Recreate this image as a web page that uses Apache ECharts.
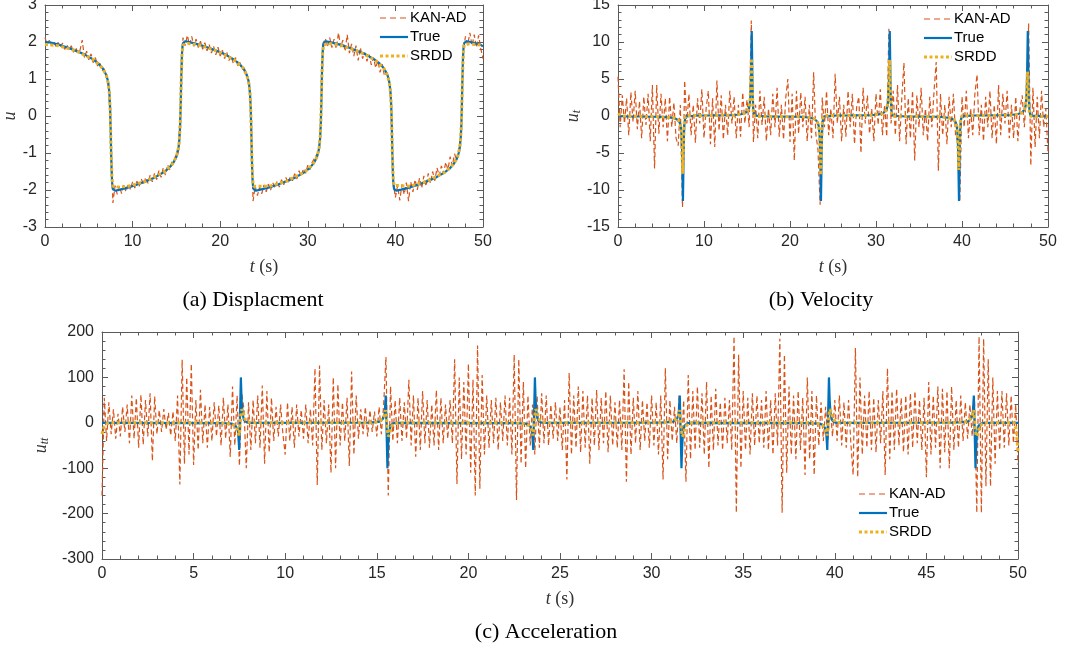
<!DOCTYPE html>
<html>
<head>
<meta charset="utf-8">
<script src="https://cdn.jsdelivr.net/npm/echarts@6/dist/echarts.min.js"></script>
<style>
  html, body { margin: 0; padding: 0; background: #ffffff; }
  #chart { width: 1078px; height: 651px; }
</style>
</head>
<body>
<div id="chart"></div>
<script>
// ---- series names and captions ----
const seriesNames = ['KAN-AD', 'True', 'SRDD'];
const captions = ['(a) Displacment', '(b) Velocity', '(c) Acceleration'];

// ---- KAN-AD predictions, sampled on a uniform time step ----
const kanStepU = 0.25;
const kanU = [
  2.12, 1.93, 2.05, 1.90,  2.02, 1.88, 1.99, 1.85,  1.97, 1.80, 1.92, 1.78,  1.90, 1.72, 1.86, 1.70,
  1.78, 2.05, 1.58, 1.75,  1.52, 1.68, 1.44, 1.58,  1.35, 1.46, 1.22, 1.28,  1.05, 0.80, -0.45, -2.35,
  -1.88, -2.12, -1.90, -2.10,  -1.85, -2.05, -1.82, -1.98,  -1.78, -1.95, -1.76, -1.90,  -1.70, -1.86, -1.66, -1.82,
  -1.60, -1.78, -1.55, -1.72,  -1.48, -1.66, -1.40, -1.60,  -1.32, -1.45, -1.22, -1.18,  -1.02, -0.80, 0.45, 2.12,
  1.90, 2.18, 1.92, 2.15,  1.88, 2.08, 1.85, 2.02,  1.80, 1.98, 1.76, 1.93,  1.70, 1.88, 1.65, 1.86,
  1.62, 1.78, 1.55, 1.72,  1.50, 1.62, 1.42, 1.58,  1.36, 1.45, 1.25, 1.30,  1.08, 1.00, 0.10, -2.30,
  -1.90, -2.15, -1.92, -2.10,  -1.86, -2.05, -1.84, -2.00,  -1.80, -1.95, -1.76, -1.92,  -1.72, -1.86, -1.66, -1.82,
  -1.62, -1.75, -1.56, -1.70,  -1.48, -1.62, -1.42, -1.55,  -1.33, -1.45, -1.25, -1.15,  -1.05, -0.95, -0.10, 1.95,
  2.10, 1.88, 2.12, 1.85,  2.08, 1.82, 2.25, 1.86,  2.05, 1.75, 2.20, 1.70,  1.95, 1.62, 1.90, 1.50,
  1.85, 1.55, 1.72, 1.48,  1.66, 1.38, 1.58, 1.30,  1.50, 1.18, 1.40, 1.08,  1.18, 0.95, 0.40, -1.80,
  -2.20, -1.88, -2.28, -1.85,  -2.12, -1.80, -2.30, -1.78,  -2.05, -1.72, -2.00, -1.68,  -1.95, -1.62, -1.90, -1.55,
  -1.82, -1.50, -1.75, -1.40,  -1.62, -1.35, -1.55, -1.25,  -1.45, -1.10, -1.35, -1.02,  -1.20, -0.90, -0.40, 1.80,
  2.15, 1.92, 2.25, 1.90,  2.20, 1.85, 2.18, 1.82,
  1.55
];

const kanStepV = 0.25;
const kanV = [
  5.3, -1.5, 2.8, -1.0,  2.4, -2.6, 3.2, -0.8,  3.4, -1.8, 2.0, -3.0,  2.6, -1.2, 3.0, -3.4,
  4.2, -7.1, 4.2, -2.4,  3.0, -1.5, 2.4, -3.4,  2.6, -1.5, 1.8, -3.0,  -4.0, 1.5, -12.3, 4.8,
  -1.0, 3.0, -2.6, 1.5,  -3.6, 2.4, -1.0, 3.6,  -3.0, 1.0, 3.4, -3.8,  2.4, -4.2, 4.8, -2.0,
  2.8, -3.2, 1.5, -2.6,  3.4, -1.0, 2.6, -3.0,  1.5, -2.8, 3.2, -1.0,  2.2, -1.5, 12.9, -3.5,
  1.5, -3.0, 3.4, -1.2,  2.6, -3.4, 1.0, -2.6,  3.0, -1.5, 3.8, -2.8,  1.5, -3.2, 2.4, 5.0,
  -3.5, 3.0, -6.0, 3.4,  -2.4, 3.2, -1.5, 2.6,  -3.4, 1.5, -3.0, 5.9,  -2.4, -4.5, -12.0, 2.5,
  -1.5, 3.4, -2.6, 1.0,  -3.0, 5.7, -1.0, 2.6,  -3.4, 1.5, -2.8, 3.4,  -1.5, 3.0, -3.8, 1.2,
  2.6, -5.0, 3.8, -1.0,  2.8, -2.4, 1.0, -3.4,  3.0, -1.2, 3.6, -2.6,  1.5, -2.8, 11.8, -1.0,
  3.4, -2.6, 4.2, -3.4,  2.4, 7.2, -3.8, 2.4,  -3.0, 3.4, -6.0, 2.8,  -1.5, 3.8, -2.6, 1.0,
  -3.4, 2.6, -1.5, 3.4,  7.3, -7.4, 3.0, -2.6,  1.5, -3.8, 2.6, -1.5,  3.0, -2.6, -3.5, -11.5,
  2.6, -1.5, 3.4, -3.0,  1.0, -2.6, 3.0, 5.6,  -2.6, 1.5, -3.4, 2.6,  -1.5, 3.4, -3.0, 1.5,
  -3.8, 4.2, -2.6, 3.0,  -1.0, 3.4, -3.0, 1.5,  -3.0, 2.6, -3.4, 1.0,  2.8, -1.5, 3.0, 12.5,
  -6.7, 3.8, -4.2, 2.6,  -3.0, 3.4, -1.5, 1.0,
  -4.9
];

const kanStepA = 0.125;
const kanA = [
  -160, 55, -40, 45, -25, 30, -35, 20,
  -30, 35, -20, 40, -45, 60, -35, 55,
  -55, 62, -48, 50, -30, 65, -84, 58,
  -25, 28, -20, 30, -15, 22, -28, 25,
  -40, 60, -136, 139, -90, 100, -70, 130,
  -93, 50, -60, 73, -45, 40, -55, 35,
  -40, 45, -30, 38, -50, 55, -35, 40,
  -75, 80, -50, 60, -95, 65, 30, -100,
  45, -60, 50, -45, 60, -55, 82, -90,
  70, -65, 55, -40, 35, -30, 40, -25,
  -70, 45, -40, 35, -55, 40, -30, 28,
  -35, 40, -45, 30, -50, 120, -137, 126,
  -60, 50, -45, 40, -110, 100, -100, 85,
  -50, 45, -40, 55, -95, 113, -70, 60,
  -35, 30, -25, 35, -30, 28, -20, 25,
  -30, 35, -25, 40, 145, -160, 80, -40,
  50, -45, 55, -40, 45, -35, 95, -50,
  60, -75, 55, -60, 70, -45, 50, -55,
  40, -50, 72, -60, 55, -45, 40, -35,
  50, -45, 140, -135, 100, -80, 90, -70,
  130, -110, 95, -160, 170, -145, 105, -70,
  60, -55, 50, -45, 55, -60, 45, -40,
  60, -50, 55, -70, 150, -170, 140, -90,
  90, -100, 60, -50, 40, -70, 60, -55,
  65, -45, 60, -50, 40, -35, 45, -40,
  35, -60, 50, -125, 110, -70, 60, -55,
  80, -65, 70, -55, 60, -90, 55, -50,
  72, -60, 55, -45, 70, -65, 60, -50,
  45, -55, 50, -60, 118, -130, 90, -70,
  55, -45, 70, -60, 50, -40, 45, -55,
  60, -50, 45, -70, 60, -125, 120, -80,
  50, -40, 35, -45, 60, -70, 50, -130,
  105, -80, 70, -60, 80, -55, 65, -70,
  90, -100, 60, -60, 75, -50, 45, -60,
  55, -45, 50, -60, 190, -198, 150, -100,
  70, -60, 55, -70, 65, -50, 60, -45,
  50, -55, 70, -60, 50, -70, 65, -50,
  185, -198, 150, -110, 80, -70, 60, -80,
  70, -60, 55, -115, 100, -80, 70, -115,
  60, -50, 45, -40, 35, -40, 35, -30,
  50, -40, 60, -50, 45, -55, 50, -45,
  -115, 165, -120, 100, -70, 60, -55, 70,
  -60, 55, -65, 50, -45, 70, -115, 120,
  -80, 70, -60, 75, -50, 55, -65, 60,
  -70, 65, -55, 70, -45, 50, -60, 55,
  -120, 90, -70, 60, -55, 80, -100, 75,
  -65, 70, -100, 80, -60, 50, -55, 60,
  -40, 45, -35, 40, -30, 55, -198, 190,
  -198, 185, -140, 140, -140, 100, -90, 70,
  -60, 70, -55, 65, -50, 60, -45, 40,
  -93
];

// ---- reference solution, [t, value] ----
const trueU = [
  [0, 2.0], [0.55, 1.99], [1.55, 1.93], [2.55, 1.85], [3.55, 1.76], [4.55, 1.66], [5.55, 1.52], [6.05, 1.43],
  [6.55, 1.30], [6.85, 1.18], [7.0, 1.10], [7.15, 0.98], [7.25, 0.85], [7.35, 0.62], [7.43, 0.25], [7.49, -0.3], [7.55, -1.0],
  [7.6, -1.45], [7.65, -1.75], [7.7, -1.9], [7.75, -1.97], [7.85, -2.01], [8.0, -2.02], [8.55, -1.99], [9.55, -1.93],
  [10.55, -1.85], [11.55, -1.76], [12.55, -1.66], [13.55, -1.52], [14.05, -1.43], [14.55, -1.30], [14.85, -1.18], [15.0, -1.10],
  [15.15, -0.98], [15.25, -0.85], [15.35, -0.62], [15.43, -0.25], [15.49, 0.3], [15.55, 1.0],
  [15.6, 1.45], [15.65, 1.75], [15.7, 1.9], [15.75, 1.97], [15.85, 2.01], [16.0, 2.02], [16.6, 1.99], [17.6, 1.93],
  [18.6, 1.85], [19.6, 1.76], [20.6, 1.66], [21.6, 1.52], [22.1, 1.43], [22.6, 1.30], [22.9, 1.18], [23.05, 1.10],
  [23.2, 0.98], [23.3, 0.85], [23.4, 0.62], [23.48, 0.25], [23.54, -0.3], [23.6, -1.0],
  [23.65, -1.45], [23.7, -1.75], [23.75, -1.9], [23.8, -1.97], [23.9, -2.01], [24.05, -2.02], [24.6, -1.99], [25.6, -1.93],
  [26.6, -1.85], [27.6, -1.76], [28.6, -1.66], [29.6, -1.52], [30.1, -1.43], [30.6, -1.30], [30.9, -1.18], [31.05, -1.10],
  [31.2, -0.98], [31.3, -0.85], [31.4, -0.62], [31.48, -0.25], [31.54, 0.3], [31.6, 1.0],
  [31.65, 1.45], [31.7, 1.75], [31.75, 1.9], [31.8, 1.97], [31.9, 2.01], [32.05, 2.02], [32.65, 1.99], [33.65, 1.93],
  [34.65, 1.85], [35.65, 1.76], [36.65, 1.66], [37.65, 1.52], [38.15, 1.43], [38.65, 1.30], [38.95, 1.18], [39.1, 1.10],
  [39.25, 0.98], [39.35, 0.85], [39.45, 0.62], [39.53, 0.25], [39.59, -0.3], [39.65, -1.0],
  [39.7, -1.45], [39.75, -1.75], [39.8, -1.9], [39.85, -1.97], [39.95, -2.01], [40.1, -2.02], [40.65, -1.99], [41.65, -1.93],
  [42.65, -1.85], [43.65, -1.76], [44.65, -1.66], [45.65, -1.52], [46.15, -1.43], [46.65, -1.30], [46.95, -1.18], [47.1, -1.10],
  [47.25, -0.98], [47.35, -0.85], [47.45, -0.62], [47.53, -0.25], [47.59, 0.3], [47.65, 1.0],
  [47.7, 1.45], [47.75, 1.75], [47.8, 1.9], [47.85, 1.97], [47.95, 2.01], [48.1, 2.02], [48.7, 1.99], [49.7, 1.93], [50, 1.88]
];

const trueV = [
  [0, 0], [1, -0.05], [2.5, -0.07], [4, -0.1], [5, -0.13],
  [5.8, -0.17], [6.3, -0.24], [6.8, -0.4], [7.0, -0.55], [7.15, -0.8], [7.3, -1.4], [7.4, -2.8], [7.45, -4.5], [7.5, -8.0],
  [7.55, -11.5], [7.59, -8.5], [7.63, -5.0], [7.67, -2.5], [7.73, -1.0], [7.8, -0.35], [7.9, -0.05], [8.05, 0.05],
  [9.5, 0.07], [11, 0.08], [12.5, 0.1], [13.5, 0.13],
  [13.8, 0.17], [14.3, 0.24], [14.8, 0.4], [15.0, 0.55], [15.15, 0.8], [15.3, 1.4], [15.4, 2.8], [15.45, 4.5], [15.5, 8.0],
  [15.55, 11.5], [15.59, 8.5], [15.63, 5.0], [15.67, 2.5], [15.73, 1.0], [15.8, 0.35], [15.9, 0.05], [16.05, -0.05],
  [17.5, -0.07], [19, -0.08], [20.5, -0.1], [21.5, -0.13],
  [21.85, -0.17], [22.35, -0.24], [22.85, -0.4], [23.05, -0.55], [23.2, -0.8], [23.35, -1.4], [23.45, -2.8], [23.5, -4.5], [23.55, -8.0],
  [23.6, -11.5], [23.64, -8.5], [23.68, -5.0], [23.72, -2.5], [23.78, -1.0], [23.85, -0.35], [23.95, -0.05], [24.1, 0.05],
  [25.5, 0.07], [27, 0.08], [28.5, 0.1], [29.5, 0.13],
  [29.85, 0.17], [30.35, 0.24], [30.85, 0.4], [31.05, 0.55], [31.2, 0.8], [31.35, 1.4], [31.45, 2.8], [31.5, 4.5], [31.55, 8.0],
  [31.6, 11.5], [31.64, 8.5], [31.68, 5.0], [31.72, 2.5], [31.78, 1.0], [31.85, 0.35], [31.95, 0.05], [32.1, -0.05],
  [33.5, -0.07], [35, -0.08], [36.5, -0.1], [37.5, -0.13],
  [37.9, -0.17], [38.4, -0.24], [38.9, -0.4], [39.1, -0.55], [39.25, -0.8], [39.4, -1.4], [39.5, -2.8], [39.55, -4.5], [39.6, -8.0],
  [39.65, -11.5], [39.69, -8.5], [39.73, -5.0], [39.77, -2.5], [39.83, -1.0], [39.9, -0.35], [40.0, -0.05], [40.15, 0.05],
  [41.5, 0.07], [43, 0.08], [44.5, 0.1], [45.5, 0.13],
  [45.9, 0.17], [46.4, 0.24], [46.9, 0.4], [47.1, 0.55], [47.25, 0.8], [47.4, 1.4], [47.5, 2.8], [47.55, 4.5], [47.6, 8.0],
  [47.65, 11.5], [47.69, 8.5], [47.73, 5.0], [47.77, 2.5], [47.83, 1.0], [47.9, 0.35], [48.0, 0.05], [48.15, -0.05],
  [50, -0.06]
];

const trueA = [
  [0, 0], [6.5, -0.5],
  [7.1, -2], [7.25, -5], [7.35, -10], [7.43, -20], [7.49, -60], [7.58, 100], [7.62, 50], [7.67, 20], [7.75, 6], [7.9, 1], [8.05, 0],
  [14.5, 0.5],
  [15.1, 2], [15.25, 5], [15.35, 10], [15.43, 20], [15.49, 60], [15.58, -100], [15.62, -50], [15.67, -20], [15.75, -6], [15.9, -1], [16.05, 0],
  [22.5, -0.5],
  [23.15, -2], [23.3, -5], [23.4, -10], [23.48, -20], [23.54, -60], [23.63, 100], [23.67, 50], [23.72, 20], [23.8, 6], [23.95, 1], [24.1, 0],
  [30.5, 0.5],
  [31.15, 2], [31.3, 5], [31.4, 10], [31.48, 20], [31.54, 60], [31.63, -100], [31.67, -50], [31.72, -20], [31.8, -6], [31.95, -1], [32.1, 0],
  [38.5, -0.5],
  [39.2, -2], [39.35, -5], [39.45, -10], [39.53, -20], [39.59, -60], [39.68, 100], [39.72, 50], [39.77, 20], [39.85, 6], [40.0, 1], [40.15, 0],
  [46.5, 0.5],
  [47.2, 2], [47.35, 5], [47.45, 10], [47.53, 20], [47.59, 60], [47.68, -100], [47.72, -50], [47.77, -20], [47.85, -6], [48.0, -1], [48.15, 0],
  [50, 0]
];

// ---- SRDD predictions, [t, value] ----
const srddU = [
  [0, 1.93], [1.55, 1.9], [3.55, 1.76], [5.55, 1.52], [6.55, 1.30], [7.0, 1.10], [7.25, 0.85], [7.35, 0.6], [7.45, 0.1],
  [7.55, -1.0], [7.65, -1.7], [7.75, -1.9], [8.3, -1.92], [9.55, -1.9], [11.55, -1.76], [13.55, -1.52], [14.55, -1.30],
  [15.0, -1.10], [15.25, -0.85], [15.35, -0.6], [15.45, -0.1], [15.55, 1.0], [15.65, 1.7], [15.75, 1.92], [16.3, 1.96],
  [17.6, 1.92], [19.6, 1.76], [21.6, 1.52], [22.6, 1.30], [23.05, 1.10], [23.3, 0.85], [23.4, 0.6], [23.5, 0.1],
  [23.6, -1.0], [23.7, -1.7], [23.8, -1.9], [24.35, -1.9], [25.6, -1.9], [27.6, -1.76], [29.6, -1.52], [30.6, -1.30],
  [31.05, -1.10], [31.3, -0.85], [31.4, -0.6], [31.5, -0.1], [31.6, 1.0], [31.7, 1.7], [31.8, 1.92], [32.35, 1.96],
  [33.65, 1.92], [35.65, 1.76], [37.65, 1.52], [38.65, 1.30], [39.1, 1.10], [39.35, 0.85], [39.45, 0.6], [39.55, 0.1],
  [39.65, -1.0], [39.75, -1.7], [39.85, -1.88], [40.4, -1.88], [41.65, -1.9], [43.65, -1.76], [45.65, -1.52], [46.65, -1.30],
  [47.1, -1.10], [47.35, -0.85], [47.45, -0.6], [47.55, -0.1], [47.65, 1.0], [47.75, 1.7], [47.85, 1.92], [48.4, 1.95],
  [49.7, 1.92], [50, 1.9]
];

const srddV = [
  [0, 0.3], [0.5, 0], [5, -0.1], [6.5, -0.25], [7.0, -0.5], [7.2, -1.0], [7.35, -2.0], [7.45, -4.5], [7.52, -7.8],
  [7.6, -5.0], [7.67, -1.5], [7.75, -0.3], [7.9, 0.05], [13.5, 0.1], [14.5, 0.25], [15.0, 0.5], [15.2, 1.0], [15.35, 2.0],
  [15.45, 4.5], [15.52, 7.8], [15.6, 5.0], [15.67, 1.5], [15.75, 0.3], [15.9, -0.05], [21.5, -0.1], [22.5, -0.25],
  [23.05, -0.5], [23.25, -1.0], [23.4, -2.0], [23.5, -4.5], [23.57, -8.0], [23.65, -5.0], [23.72, -1.5], [23.8, -0.3],
  [23.95, 0.05], [29.5, 0.1], [30.6, 0.25], [31.05, 0.5], [31.25, 1.0], [31.4, 2.0], [31.5, 4.5], [31.57, 7.6],
  [31.65, 5.0], [31.72, 1.5], [31.8, 0.3], [31.95, -0.05], [37.5, -0.1], [38.6, -0.25], [39.1, -0.5], [39.3, -1.0],
  [39.45, -2.0], [39.55, -4.5], [39.62, -7.3], [39.7, -4.8], [39.77, -1.5], [39.85, -0.3], [40.0, 0.05], [45.5, 0.1],
  [46.6, 0.25], [47.1, 0.5], [47.3, 1.0], [47.45, 2.0], [47.55, 4.0], [47.62, 6.0], [47.7, 4.0], [47.77, 1.3],
  [47.85, 0.3], [48.0, -0.05], [50, -0.08]
];

const srddA = [
  [0, -25], [0.1, -10], [0.25, -2], [0.5, 0], [6.5, 0],
  [7.0, -2], [7.25, -6], [7.4, -15], [7.48, -28], [7.53, -10], [7.57, 15], [7.63, 30], [7.7, 25], [7.8, 8], [7.95, 2], [8.2, 0],
  [14.5, 0], [15.0, 2], [15.25, 6], [15.4, 15], [15.48, 28], [15.53, 10], [15.57, -15], [15.63, -30], [15.7, -25], [15.8, -8], [15.95, -2], [16.2, 0],
  [22.55, 0], [23.05, -2], [23.3, -6], [23.45, -15], [23.53, -28], [23.58, -10], [23.62, 15], [23.68, 30], [23.75, 25], [23.85, 8], [24.0, 2], [24.25, 0],
  [30.55, 0], [31.05, 2], [31.3, 6], [31.45, 15], [31.53, 28], [31.58, 10], [31.62, -15], [31.68, -30], [31.75, -25], [31.85, -8], [32.0, -2], [32.25, 0],
  [38.6, 0], [39.1, -2], [39.35, -6], [39.5, -15], [39.58, -28], [39.63, -10], [39.67, 15], [39.73, 30], [39.8, 25], [39.9, 8], [40.05, 2], [40.3, 0],
  [46.6, 0], [47.1, 2], [47.35, 6], [47.5, 15], [47.58, 28], [47.63, 10], [47.67, -15], [47.73, -30], [47.8, -25], [47.9, -8], [48.05, -2], [48.3, 0],
  [49.8, 0], [49.9, -15], [50, -65]
];

// ---- axis ranges ----
const yRanges = [
  { min: -3, max: 3, interval: 1 },
  { min: -15, max: 15, interval: 5 },
  { min: -300, max: 200, interval: 100 }
];
const xIntervals = [10, 10, 5];

// ---- styling ----
const axisColor = '#262626';
const boxColor = '#5a5a5a';
const sansFont = '"Liberation Sans", Arial, Helvetica, sans-serif';
const serifFont = '"Liberation Serif", "Times New Roman", serif';
const colors = { kan: '#D95319', tru: '#0072BD', srdd: '#EDB120' };
const strokes = [
  { color: colors.kan, width: 1.2, dash: [5, 3], keyDash: [6, 4] },
  { color: colors.tru, width: 2.2, dash: null, keyDash: null },
  { color: colors.srdd, width: 3, dash: [3, 2.5], keyDash: [3, 2.5] }
];

function timed(values, step) {
  return values.map((v, i) => [Math.round(i * step * 1000) / 1000, v]);
}

const grids = [
  { left: 45, top: 5, width: 438, height: 222 },
  { left: 618, top: 5, width: 430, height: 222 },
  { left: 102, top: 332, width: 916, height: 227 }
].map(g => Object.assign({ outerBoundsMode: 'none', containLabel: false, show: false }, g));

const tickStyle = { color: boxColor, width: 1 };

function xAxisPair(gi) {
  const common = {
    type: 'value', gridIndex: gi, min: 0, max: 50, interval: xIntervals[gi],
    splitLine: { show: false },
    axisLine: { show: true, onZero: false, lineStyle: { color: boxColor, width: 1 } },
    axisTick: { show: true, inside: true, length: 6, lineStyle: tickStyle },
    minorTick: { show: true, splitNumber: 5, length: 3.5, lineStyle: tickStyle }
  };
  return [
    Object.assign({}, common, {
      position: 'bottom',
      axisLabel: { show: true, margin: 7, fontSize: 16, fontFamily: sansFont, color: axisColor },
      name: '{i|t} {r|(s)}',
      nameLocation: 'middle',
      nameGap: 31,
      nameTextStyle: {
        color: '#333', fontSize: 18, fontFamily: serifFont,
        rich: {
          i: { fontStyle: 'italic', fontSize: 18, fontFamily: serifFont, color: '#333' },
          r: { fontSize: 18, fontFamily: serifFont, color: '#333' }
        }
      }
    }),
    Object.assign({}, common, { position: 'top', axisLabel: { show: false } })
  ];
}

const yNames = ['{i|u}', '{i|u}{s|t}', '{i|u}{s|tt}'];
const yGaps = [24, 34, 37];

function yAxisPair(gi) {
  const r = yRanges[gi];
  const common = {
    type: 'value', gridIndex: gi, min: r.min, max: r.max, interval: r.interval,
    splitLine: { show: false },
    axisLine: { show: true, onZero: false, lineStyle: { color: boxColor, width: 1 } },
    axisTick: { show: true, inside: true, length: 6, lineStyle: tickStyle },
    minorTick: { show: true, splitNumber: 5, length: 3.5, lineStyle: tickStyle }
  };
  return [
    Object.assign({}, common, {
      position: 'left',
      axisLabel: { show: true, margin: 8, fontSize: 16, fontFamily: sansFont, color: axisColor },
      name: yNames[gi],
      nameLocation: 'middle',
      nameRotate: 90,
      nameGap: yGaps[gi],
      nameTextStyle: {
        color: '#333', fontFamily: serifFont,
        rich: {
          i: { fontStyle: 'italic', fontSize: 18, fontFamily: serifFont, color: '#333', lineHeight: 20 },
          s: { fontStyle: 'italic', fontSize: 12, fontFamily: serifFont, color: '#333', verticalAlign: 'bottom', lineHeight: 14 }
        }
      }
    }),
    Object.assign({}, common, { position: 'right', axisLabel: { show: false } })
  ];
}

const kanData = [timed(kanU, kanStepU), timed(kanV, kanStepV), timed(kanA, kanStepA)];
const trueData = [trueU, trueV, trueA];
const srddData = [srddU, srddV, srddA];
const panelData = [kanData, trueData, srddData];

const series = [];
for (let gi = 0; gi < 3; gi++) {
  for (let k = 0; k < 3; k++) {
    const s = strokes[k];
    series.push({
      name: seriesNames[k], type: 'line', data: panelData[k][gi],
      xAxisIndex: 2 * gi, yAxisIndex: 2 * gi,
      symbol: 'none', showSymbol: false,
      lineStyle: { color: s.color, width: s.width, type: s.dash || 'solid' },
      itemStyle: { color: s.color },
      animation: false, silent: true, z: 2 + k
    });
  }
}

// key for each panel: short stroke sample followed by the series name
const keyPlaces = [[380, 18], [924, 19], [859, 494]];
const keyRow = 19;
const keyGraphics = [];
keyPlaces.forEach(([kx, ky]) => {
  strokes.forEach((s, k) => {
    const y = ky + k * keyRow;
    keyGraphics.push({
      type: 'line', silent: true,
      shape: { x1: kx, y1: y, x2: kx + 28, y2: y },
      style: { stroke: s.color, lineWidth: s.width, lineDash: s.keyDash || null }
    });
    keyGraphics.push({
      type: 'text', silent: true, x: kx + 30, y: y,
      style: { text: seriesNames[k], font: '15px ' + sansFont, fill: '#000', textAlign: 'left', textVerticalAlign: 'middle' }
    });
  });
});

const captionPos = [[253, 300], [821, 300], [546, 632]];
const captionGraphics = captions.map((c, i) => ({
  type: 'text', x: captionPos[i][0], y: captionPos[i][1],
  style: { text: c, font: '22px ' + serifFont, fill: '#000', textAlign: 'center', textVerticalAlign: 'middle' }
}));

const option = {
  animation: false,
  backgroundColor: '#ffffff',
  grid: grids,
  xAxis: [].concat(xAxisPair(0), xAxisPair(1), xAxisPair(2)),
  yAxis: [].concat(yAxisPair(0), yAxisPair(1), yAxisPair(2)),
  series: series,
  graphic: keyGraphics.concat(captionGraphics)
};

const chart = echarts.init(document.getElementById('chart'), null, { renderer: 'canvas' });
chart.setOption(option);
</script>
</body>
</html>
